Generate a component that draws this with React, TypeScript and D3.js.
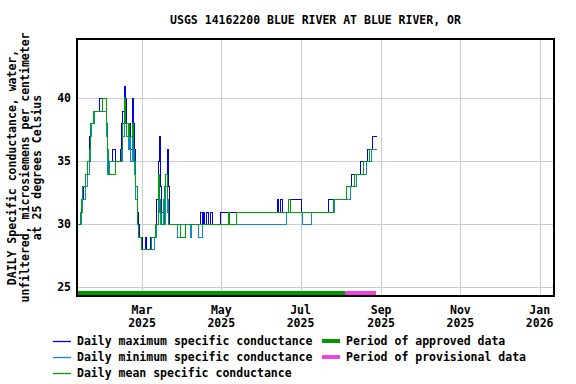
import React, { useRef, useEffect } from 'react'
import * as d3 from 'd3'

// daily values, listed where the value changes (step line)
const maxSeries: [string, number][] = [
  ['2025-01-10', 30], ['2025-01-12', 31], ['2025-01-13', 32], ['2025-01-15', 33],
  ['2025-01-16', 34], ['2025-01-18', 35], ['2025-01-19', 37], ['2025-01-20', 38],
  ['2025-01-22', 39], ['2025-01-27', 40], ['2025-02-01', 38], ['2025-02-02', 36],
  ['2025-02-03', 35], ['2025-02-06', 36], ['2025-02-08', 35], ['2025-02-12', 36],
  ['2025-02-13', 38], ['2025-02-14', 39], ['2025-02-15', 41], ['2025-02-16', 40],
  ['2025-02-17', 38], ['2025-02-18', 37], ['2025-02-19', 38], ['2025-02-20', 36],
  ['2025-02-21', 40], ['2025-02-22', 38], ['2025-02-23', 36], ['2025-02-24', 33],
  ['2025-02-25', 31], ['2025-02-26', 30], ['2025-02-27', 29], ['2025-03-01', 28],
  ['2025-03-03', 29], ['2025-03-04', 28], ['2025-03-07', 29], ['2025-03-11', 30],
  ['2025-03-12', 32], ['2025-03-13', 35], ['2025-03-14', 37], ['2025-03-15', 33],
  ['2025-03-16', 31], ['2025-03-17', 30], ['2025-03-18', 32], ['2025-03-19', 34],
  ['2025-03-20', 36], ['2025-03-21', 33], ['2025-03-22', 30], ['2025-04-15', 31],
  ['2025-04-16', 30], ['2025-04-17', 31], ['2025-04-18', 30], ['2025-04-19', 31],
  ['2025-04-21', 30], ['2025-04-22', 31], ['2025-04-24', 30], ['2025-04-30', 31],
  ['2025-06-13', 32], ['2025-06-14', 31], ['2025-06-15', 32], ['2025-06-17', 31],
  ['2025-06-21', 32], ['2025-07-01', 31], ['2025-07-22', 32], ['2025-08-05', 33],
  ['2025-08-09', 34], ['2025-08-16', 35], ['2025-08-21', 36], ['2025-08-25', 37],
  ['2025-08-28', 37],
]

const minSeries: [string, number][] = [
  ['2025-01-10', 30], ['2025-01-13', 31], ['2025-01-14', 32], ['2025-01-16', 33],
  ['2025-01-18', 34], ['2025-01-19', 35], ['2025-01-20', 37], ['2025-01-21', 38],
  ['2025-01-23', 39], ['2025-02-01', 37], ['2025-02-02', 34], ['2025-02-04', 35],
  ['2025-02-14', 37], ['2025-02-15', 39], ['2025-02-16', 38], ['2025-02-18', 36],
  ['2025-02-19', 37], ['2025-02-20', 35], ['2025-02-21', 37], ['2025-02-22', 35],
  ['2025-02-23', 34], ['2025-02-24', 32], ['2025-02-25', 30], ['2025-02-26', 29],
  ['2025-02-28', 28], ['2025-03-10', 29], ['2025-03-12', 30], ['2025-03-13', 33],
  ['2025-03-14', 31], ['2025-03-15', 30], ['2025-03-17', 32], ['2025-03-18', 30],
  ['2025-03-19', 33], ['2025-03-20', 31], ['2025-03-21', 30], ['2025-03-28', 29],
  ['2025-03-30', 30], ['2025-04-07', 29], ['2025-04-08', 30], ['2025-04-13', 29],
  ['2025-04-16', 30], ['2025-06-20', 31], ['2025-07-02', 30], ['2025-07-09', 31],
  ['2025-07-27', 32], ['2025-08-08', 33], ['2025-08-13', 34], ['2025-08-20', 35],
  ['2025-08-24', 36], ['2025-08-28', 36],
]

const meanSeries: [string, number][] = [
  ['2025-01-10', 30], ['2025-01-12', 31], ['2025-01-13', 32], ['2025-01-14', 33],
  ['2025-01-16', 34], ['2025-01-18', 35], ['2025-01-19', 36], ['2025-01-20', 38],
  ['2025-01-22', 39], ['2025-01-29', 40], ['2025-02-01', 38], ['2025-02-02', 36],
  ['2025-02-03', 34], ['2025-02-08', 35], ['2025-02-13', 36], ['2025-02-14', 38],
  ['2025-02-15', 40], ['2025-02-16', 38], ['2025-02-17', 37], ['2025-02-18', 38],
  ['2025-02-19', 37], ['2025-02-21', 38], ['2025-02-22', 36], ['2025-02-23', 35],
  ['2025-02-24', 33], ['2025-02-25', 30], ['2025-02-26', 29], ['2025-02-28', 28],
  ['2025-03-08', 29], ['2025-03-11', 30], ['2025-03-13', 34], ['2025-03-14', 32],
  ['2025-03-15', 31], ['2025-03-16', 30], ['2025-03-18', 33], ['2025-03-19', 34],
  ['2025-03-20', 32], ['2025-03-21', 30], ['2025-03-30', 29], ['2025-04-03', 30],
  ['2025-05-06', 31], ['2025-05-07', 30], ['2025-05-12', 31], ['2025-06-21', 32],
  ['2025-06-23', 31], ['2025-07-26', 32], ['2025-08-05', 33], ['2025-08-11', 34],
  ['2025-08-18', 35], ['2025-08-23', 36], ['2025-08-28', 36],
]

// approval periods
const approvedPeriod: [string, string] = ['2025-01-10', '2025-08-05']
const provisionalPeriod: [string, string] = ['2025-08-05', '2025-08-29']

const yTicks = [25, 30, 35, 40]
const xTicks = ['2025-03-01', '2025-05-01', '2025-07-01', '2025-09-01', '2025-11-01', '2026-01-01']
const xDomain = ['2025-01-10', '2026-01-12']

const title = 'USGS 14162200 BLUE RIVER AT BLUE RIVER, OR'
const yLabel = ['DAILY Specific conductance, water,', 'unfiltered, microsiemens per centimeter', 'at 25 degrees Celsius']

const legendLines = [
  { label: 'Daily maximum specific conductance', color: '#0000ee' },
  { label: 'Daily minimum specific conductance', color: '#0a88d0' },
  { label: 'Daily mean specific conductance', color: '#00a000' },
]
const legendBars = [
  { label: 'Period of approved data', color: '#009900' },
  { label: 'Period of provisional data', color: '#ee44dd' },
]

const parse = d3.timeParse('%Y-%m-%d')
const font = '"DejaVu Sans Mono", monospace'

function App() {
  const svgRef = useRef<SVGSVGElement>(null)

  useEffect(() => {
    const width = 576
    const height = 384
    const left = 77, right = 554, top = 39, bottom = 296

    const svg = d3.select(svgRef.current)
    svg.selectAll('*').remove()
    svg.attr('width', width).attr('height', height)

    const x = d3.scaleTime()
      .domain(xDomain.map(d => parse(d) as Date))
      .range([left, right])
    const y = d3.scaleLinear()
      .domain([24.3, 44.7])
      .range([bottom, top])
    const px = (d: string) => Math.round(x(parse(d) as Date)) + 0.5
    const py = (v: number) => Math.round(y(v)) + 0.5

    // grid
    svg.append('g')
      .selectAll('line')
      .data(yTicks)
      .join('line')
      .attr('x1', left).attr('x2', right)
      .attr('y1', d => py(d)).attr('y2', d => py(d))
      .attr('stroke', '#cccccc')
    svg.append('g')
      .selectAll('line')
      .data(xTicks)
      .join('line')
      .attr('x1', d => px(d)).attr('x2', d => px(d))
      .attr('y1', top).attr('y2', bottom)
      .attr('stroke', '#cccccc')

    // series
    const line = d3.line<[string, number]>()
      .x(d => px(d[0]))
      .y(d => py(d[1]))
      .curve(d3.curveStepAfter)

    const series = [maxSeries, minSeries, meanSeries]
    series.forEach((s, i) => {
      svg.append('path')
        .datum(s)
        .attr('d', line)
        .attr('fill', 'none')
        .attr('stroke', legendLines[i].color)
        .attr('stroke-width', 1)
        .attr('shape-rendering', 'crispEdges')
    })

    // approval bars
    const periods = [approvedPeriod, provisionalPeriod]
    periods.forEach((p, i) => {
      svg.append('rect')
        .attr('x', Math.round(x(parse(p[0]) as Date)) - 1)
        .attr('width', Math.round(x(parse(p[1]) as Date)) - Math.round(x(parse(p[0]) as Date)))
        .attr('y', 291)
        .attr('height', 4)
        .attr('fill', legendBars[i].color)
    })

    // frame
    svg.append('rect')
      .attr('x', left).attr('y', top)
      .attr('width', right - left).attr('height', bottom - top)
      .attr('fill', 'none').attr('stroke', '#000').attr('stroke-width', 2)

    const text = (sel: any) => sel
      .attr('font-family', font)
      .attr('font-weight', 'bold')
      .attr('font-size', 11.5)
      .attr('fill', '#000')

    // y tick labels
    svg.append('g')
      .selectAll('text')
      .data(yTicks)
      .join('text')
      .call(text)
      .attr('x', 71)
      .attr('y', d => y(d) + 4)
      .attr('text-anchor', 'end')
      .text(d => d)

    // x tick labels
    const xl = svg.append('g')
      .selectAll('text')
      .data(xTicks)
      .join('text')
      .call(text)
      .attr('text-anchor', 'middle')
    xl.append('tspan')
      .attr('x', d => x(parse(d) as Date))
      .attr('y', 314)
      .text(d => d3.timeFormat('%b')(parse(d) as Date))
    xl.append('tspan')
      .attr('x', d => x(parse(d) as Date))
      .attr('y', 327)
      .text(d => d3.timeFormat('%Y')(parse(d) as Date))

    // title
    svg.append('text').call(text)
      .attr('x', (left + right) / 2).attr('y', 24)
      .attr('text-anchor', 'middle')
      .text(title)

    // y axis label
    svg.append('g')
      .selectAll('text')
      .data(yLabel)
      .join('text')
      .call(text)
      .attr('text-anchor', 'middle')
      .attr('transform', (d, i) => `translate(${16 + i * 12.5},${(top + bottom) / 2}) rotate(-90)`)
      .text(d => d)

    // legend
    legendLines.forEach((l, i) => {
      const ly = 341 + i * 16
      svg.append('line')
        .attr('x1', 53).attr('x2', 71)
        .attr('y1', ly + 0.5).attr('y2', ly + 0.5)
        .attr('stroke', l.color)
        .attr('stroke-width', 1.3)
      svg.append('text').call(text)
        .attr('x', 77).attr('y', ly + 4)
        .text(l.label)
    })
    legendBars.forEach((l, i) => {
      const ly = 341 + i * 16
      svg.append('rect')
        .attr('x', 322).attr('width', 18)
        .attr('y', ly - 2).attr('height', 4)
        .attr('fill', l.color)
      svg.append('text').call(text)
        .attr('x', 346).attr('y', ly + 4)
        .text(l.label)
    })
  }, [])

  return (
    <svg ref={svgRef} style={{ position: 'absolute', left: 0, top: 0 }}></svg>
  )
}

export default App
